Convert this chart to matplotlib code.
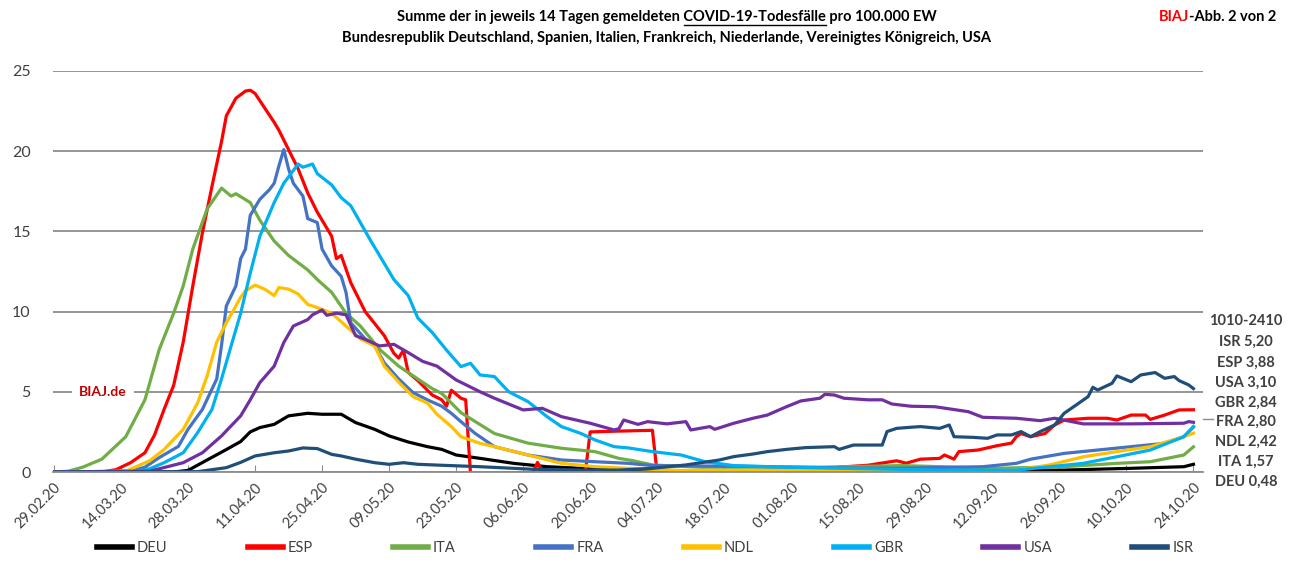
import matplotlib
matplotlib.use("Agg")
import matplotlib.pyplot as plt
import matplotlib.dates as mdates
from matplotlib.lines import Line2D
import pandas as pd

plt.rcParams['font.family'] = ['Lato', 'DejaVu Sans']

# Tage seit 29.02.20 und Werte je Land
deu_day = [0, 25, 28, 32, 36, 39, 41, 43, 46, 49, 53, 56, 60, 63, 67, 70, 74, 78, 81, 84, 89, 96, 103, 110, 120,
           140, 190, 211, 225, 236, 238]
deu_val = [0, 0, 0.1, 0.75, 1.4, 1.9, 2.5, 2.77, 2.97, 3.5, 3.66, 3.6, 3.6, 3.08, 2.66, 2.25, 1.87, 1.58, 1.41, 1.06,
           0.85, 0.54, 0.33, 0.23, 0.12, 0.06, 0.06, 0.12, 0.23, 0.33, 0.48]

esp_day = [0, 10, 13, 16, 19, 21, 23, 25, 27, 29, 31, 33, 35, 36, 38, 40, 41, 42, 44, 46, 47, 49, 51, 53, 55, 58, 59,
           60, 62, 65, 69, 71, 72, 73, 74, 76, 79, 81, 82, 83, 85, 86, 87, 100, 101, 102, 111, 112, 118, 125, 126, 160,
           164, 170, 173, 176, 178, 181, 185, 186, 188, 189, 193, 197, 200, 201, 202, 204, 207, 209, 211, 216, 220, 222,
           225, 228, 229, 232, 235, 238]
esp_val = [0, 0, 0.15, 0.58, 1.2, 2.3, 3.9, 5.4, 8.1, 11.6, 14.9, 17.8, 20.6, 22.2, 23.3, 23.75, 23.8, 23.6, 22.7,
           21.8, 21.3, 20.1, 18.9, 17.4, 16.2, 14.7, 13.3, 13.5, 11.8, 10.0, 8.5, 7.4, 7.1, 7.6, 6.2, 5.7, 4.8, 4.5,
           4.1, 5.1, 4.6, 4.5, -0.1, -0.05, 0.6, 0.0, 0.0, 2.5, 2.55, 2.6, -0.1, 0.05, 0.3, 0.42, 0.56, 0.7, 0.55,
           0.8, 0.85, 1.06, 0.8, 1.27, 1.37, 1.64, 1.8, 2.2, 2.4, 2.2, 2.4, 2.93, 3.24, 3.35, 3.35, 3.24, 3.55, 3.55,
           3.28, 3.55, 3.87, 3.88]

ita_day = [0, 3, 6, 10, 15, 19, 22, 25, 27, 29, 32, 35, 37, 38, 41, 43, 46, 49, 53, 55, 58, 61, 64, 68, 72, 76, 79,
           81, 85, 92, 99, 106, 113, 118, 121, 125, 135, 160, 177, 197, 211, 222, 229, 236, 238]
ita_val = [0, 0.05, 0.3, 0.8, 2.2, 4.5, 7.65, 9.9, 11.6, 13.9, 16.4, 17.7, 17.2, 17.35, 16.8, 15.7, 14.4, 13.5, 12.6,
           12.0, 11.2, 9.9, 9.1, 7.65, 6.6, 5.8, 5.2, 4.9, 3.7, 2.4, 1.8, 1.48, 1.27, 0.85, 0.7, 0.44, 0.3, 0.3,
           0.4, 0.23, 0.33, 0.54, 0.64, 1.06, 1.57]

fra_day = [0, 16, 19, 22, 26, 28, 31, 34, 35, 36, 38, 39, 40, 41, 43, 45, 46, 47, 48, 49, 50, 52, 53, 55, 56, 58, 60,
           61, 62, 65, 67, 69, 72, 75, 78, 81, 83, 85, 88, 92, 99, 106, 113, 120, 125, 145, 165, 177, 194, 201, 204,
           211, 218, 225, 232, 236, 238]
fra_val = [0, 0.05, 0.3, 0.9, 1.6, 2.66, 3.9, 5.8, 7.9, 10.35, 11.6, 13.3, 13.9, 16.0, 17.0, 17.6, 18.0, 19.1, 20.1,
           18.9, 18.0, 17.2, 15.8, 15.55, 13.9, 12.85, 12.2, 11.2, 9.3, 8.3, 7.86, 6.8, 5.8, 4.95, 4.5, 4.1, 3.66,
           3.14, 2.4, 1.58, 1.06, 0.75, 0.64, 0.54, 0.4, 0.35, 0.25, 0.23, 0.33, 0.54, 0.8, 1.16, 1.37, 1.58, 1.79,
           2.2, 2.8]

ndl_day = [0, 15, 20, 23, 27, 30, 32, 34, 36, 38, 39, 40, 42, 44, 46, 47, 49, 51, 53, 55, 58, 61, 64, 67, 69, 72, 75,
           78, 80, 83, 85, 89, 92, 99, 106, 113, 120, 130, 190, 201, 208, 215, 222, 229, 236, 238]
ndl_val = [0, 0.05, 0.7, 1.4, 2.66, 4.3, 6.0, 8.1, 9.3, 10.35, 10.9, 11.3, 11.65, 11.4, 11.0, 11.5, 11.4, 11.1, 10.45,
           10.25, 9.9, 9.1, 8.3, 7.86, 6.6, 5.6, 4.7, 4.3, 3.6, 2.83, 2.2, 1.79, 1.58, 1.06, 0.54, 0.33, 0.23, 0.1,
           0.08, 0.12, 0.44, 0.95, 1.27, 1.58, 2.2, 2.42]

gbr_day = [0, 17, 20, 23, 27, 30, 33, 35, 37, 39, 41, 43, 46, 48, 51, 52, 54, 55, 58, 60, 62, 64, 66, 68, 71, 74, 76,
           79, 82, 85, 87, 89, 92, 95, 99, 103, 106, 110, 113, 117, 120, 125, 131, 136, 142, 153, 170, 185, 201, 208,
           215, 222, 229, 236, 238]
gbr_val = [0, 0.05, 0.2, 0.58, 1.2, 2.45, 3.9, 5.8, 7.86, 9.9, 12.4, 14.7, 16.8, 18.0, 19.2, 19.0, 19.2, 18.6, 17.9,
           17.1, 16.6, 15.55, 14.5, 13.5, 12.0, 11.0, 9.6, 8.7, 7.6, 6.57, 6.78, 6.05, 5.95, 5.0, 4.39, 3.45, 2.83,
           2.41, 2.0, 1.58, 1.5, 1.27, 1.06, 0.64, 0.4, 0.3, 0.2, 0.12, 0.12, 0.33, 0.54, 0.95, 1.37, 2.2, 2.84]

usa_day = [0, 20, 27, 31, 35, 39, 41, 43, 46, 48, 50, 53, 54, 56, 57, 59, 61, 63, 65, 68, 71, 74, 77, 80, 84, 89, 92,
           98, 102, 106, 112, 117, 118, 119, 122, 124, 128, 132, 133, 137, 138, 142, 146, 149, 153, 156, 160, 161, 163,
           165, 170, 173, 175, 179, 184, 191, 194, 201, 206, 209, 215, 225, 236, 237, 238]
usa_val = [0, 0.05, 0.58, 1.2, 2.25, 3.5, 4.5, 5.57, 6.6, 8.07, 9.1, 9.5, 9.8, 10.1, 9.77, 9.9, 9.8, 8.5, 8.27, 7.86,
           7.96, 7.44, 6.9, 6.6, 5.74, 5.0, 4.6, 3.87, 3.97, 3.45, 3.04, 2.62, 2.7, 3.24, 2.97, 3.14, 3.0, 3.14, 2.62,
           2.83, 2.66, 3.04, 3.35, 3.55, 4.07, 4.43, 4.6, 4.84, 4.8, 4.6, 4.5, 4.5, 4.24, 4.1, 4.07, 3.76, 3.41, 3.35,
           3.2, 3.35, 3.0, 3.0, 3.04, 3.14, 3.1]

isr_day = [0, 30, 36, 39, 42, 46, 49, 52, 55, 58, 60, 63, 67, 70, 73, 76, 81, 89, 100, 110, 118, 125, 132, 139, 142,
           146, 149, 153, 157, 163, 164, 167, 173, 174, 176, 179, 181, 185, 187, 188, 192, 195, 197, 200, 202, 204,
           206, 209, 211, 214, 216, 217, 218, 221, 222, 225, 227, 230, 232, 234, 235, 237, 238]
isr_val = [0, 0.02, 0.27, 0.6, 1.0, 1.2, 1.31, 1.5, 1.46, 1.1, 1.0, 0.8, 0.58, 0.48, 0.58, 0.48, 0.42, 0.33, 0.17,
           0.12, 0.12, 0.23, 0.44, 0.75, 0.96, 1.12, 1.27, 1.41, 1.52, 1.58, 1.41, 1.68, 1.68, 2.52, 2.72, 2.79,
           2.83, 2.72, 2.93, 2.2, 2.16, 2.1, 2.31, 2.31, 2.52, 2.2, 2.52, 2.93, 3.66, 4.28, 4.7, 5.28, 5.11, 5.53,
           5.99, 5.63, 6.05, 6.2, 5.84, 5.95, 5.7, 5.43, 5.2]

countries = ["DEU", "ESP", "ITA", "FRA", "NDL", "GBR", "USA", "ISR"]
colors = ["#000000", "#FF0000", "#70AD47", "#4472C4", "#FFC000", "#00B0F0", "#7030A0", "#1F4E79"]
days = [deu_day, esp_day, ita_day, fra_day, ndl_day, gbr_day, usa_day, isr_day]
values = [deu_val, esp_val, ita_val, fra_val, ndl_val, gbr_val, usa_val, isr_val]

end_labels = ["1010-2410", "ISR 5,20", "ESP 3,88", "USA 3,10", "GBR 2,84", "FRA 2,80", "NDL 2,42", "ITA 1,57",
              "DEU 0,48"]

start = pd.Timestamp("2020-02-29")
W, H = 1298, 570

fig = plt.figure(figsize=(W / 100, H / 100), dpi=100)
ax = fig.add_axes([53 / W, (H - 472) / H, (1203 - 53) / W, (472 - 71) / H])

for name, col, d, v in zip(countries, colors, days, values):
    x = start + pd.to_timedelta(d, unit="D")
    ax.plot(x, v, color=col, lw=2.3, label=name, solid_joinstyle="round")

ax.set_ylim(0, 25)
ax.set_xlim(start - pd.Timedelta(days=0.2), start + pd.Timedelta(days=240))
ax.set_yticks([0, 5, 10, 15, 20, 25])
ax.yaxis.grid(True, color="#8C8C8C", lw=1.3)
ax.set_axisbelow(True)
ticks = pd.date_range("2020-02-29", "2020-10-24", freq="14D")
ax.set_xticks(ticks)
ax.xaxis.set_major_formatter(mdates.DateFormatter("%d.%m.%y"))
for lbl in ax.get_xticklabels():
    lbl.set_rotation(45)
    lbl.set_ha("right")
    lbl.set_rotation_mode("anchor")
ax.tick_params(axis="x", direction="in", length=5, color="#8C8C8C", labelsize=10.5,
               labelcolor="#404040", pad=6)
ax.tick_params(axis="y", length=0, labelsize=11.5, labelcolor="#404040", pad=16)
for s in ["top", "right", "left"]:
    ax.spines[s].set_visible(False)
ax.spines["bottom"].set_color("#8C8C8C")
ax.spines["bottom"].set_linewidth(1.3)

fig.text(79 / W, 1 - 392 / H, "BIAJ.de", color="#C00000", fontsize=10, fontweight="bold",
         va="center", ha="left", bbox=dict(facecolor="white", edgecolor="none", pad=5), zorder=5)

leg = fig.legend(loc="center", bbox_to_anchor=(0.497, 1 - 548 / H), ncol=8, frameon=False,
                 fontsize=10.5, handlelength=2.4, handletextpad=0.35, columnspacing=5.5)
for h in leg.get_lines():
    h.set_linewidth(4)
for t in leg.get_texts():
    t.set_color("#404040")

# Endwerte rechts
ys = [321, 342, 363, 383, 403, 422, 442, 462, 482]
for txt, y in zip(end_labels, ys):
    fig.text(1246 / W, 1 - y / H, txt, ha="center", va="center", fontsize=10.5,
             fontweight="bold", color="#404040")
fig.add_artist(Line2D([1203 / W, 1213 / W], [1 - 419 / H, 1 - 419 / H], color="#8C8C8C", lw=1))

# Titel mit Unterstreichung
renderer = fig.canvas.get_renderer()
tprops = dict(fontsize=10.5, fontweight="bold", color="black")
line1 = "Summe der in jeweils 14 Tagen gemeldeten COVID-19-Todesfälle pro 100.000 EW"
cx, ty = 667 / W, 1 - 17 / H
fig.text(cx, ty, line1, ha="center", va="center", **tprops)
fig.text(cx, 1 - 38 / H, "Bundesrepublik Deutschland, Spanien, Italien, Frankreich, Niederlande, Vereinigtes Königreich, USA",
         ha="center", va="center", **tprops)


def text_width(s):
    tmp = fig.text(0, 0, s, **tprops)
    w = tmp.get_window_extent(renderer).width
    tmp.remove()
    return w


full_w = text_width(line1)
upto = text_width("Summe der in jeweils 14 Tagen gemeldeten COVID-19-Todesfälle")
mid = text_width("COVID-19-Todesfälle")
left_px = cx * W - full_w / 2
u0 = left_px + upto - mid
u1 = left_px + upto
uy = ty - 8 / H
fig.add_artist(Line2D([u0 / W, u1 / W], [uy, uy], color="black", lw=1))

t_abb = fig.text(1276 / W, ty, "-Abb. 2 von 2", ha="right", va="center", **tprops)
abb_w = t_abb.get_window_extent(renderer).width
fig.text((1276 - abb_w) / W, ty, "BIAJ", ha="right", va="center", fontsize=10.5,
         fontweight="bold", color="#FF0000")

fig.savefig("out.png", dpi=100)
